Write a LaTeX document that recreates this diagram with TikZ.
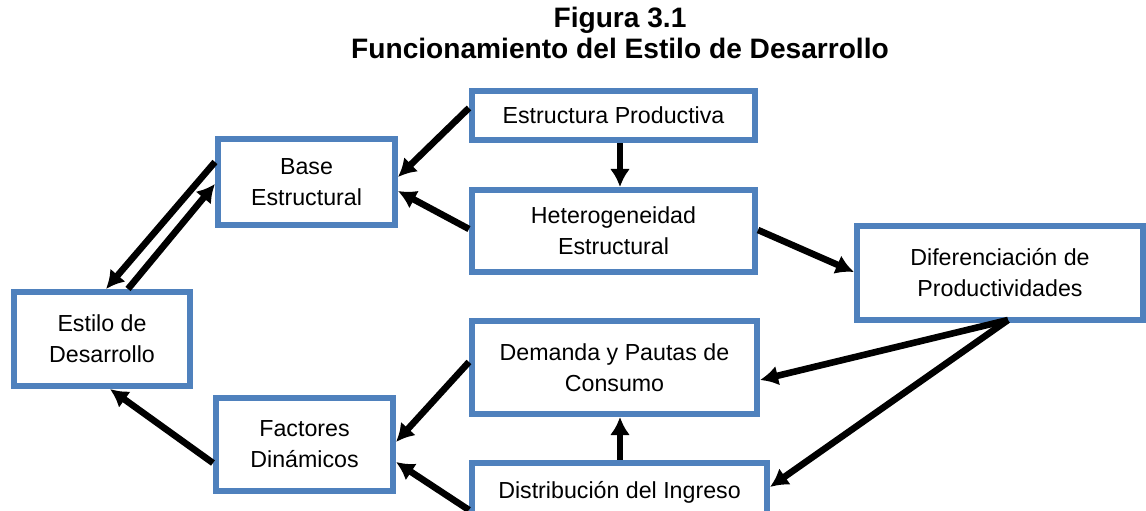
\documentclass[tikz,border=0pt]{standalone}
\usepackage{fontspec}
\setmainfont{Liberation Sans}
\usetikzlibrary{arrows.meta,calc}
\usetikzlibrary{positioning}
\definecolor{blockblue}{HTML}{4F81BD}
\tikzset{>={Latex[length=0.45cm,width=0.5cm]}}

\begin{document}
\begin{tikzpicture}[x=0.025cm,y=-0.025cm,
		block/.style={draw=blockblue, line width=0.15cm, inner sep=0pt, align=center, font=\fontsize{16.5}{22}\selectfont},
		link/.style={->, line width=0.165cm}]
		\useasboundingbox (0,0) rectangle (1146,511);
		\clip (0,0) rectangle (1146,511);
		\node[align=center, font=\fontsize{20}{22}\bfseries\selectfont] (title) at (620,33) {Figura 3.1\\Funcionamiento del Estilo de Desarrollo};
		\node[block, minimum width=7.075cm, minimum height=1.225cm] (ep) at (613.5,115.5) {Estructura Productiva};
		\node[block, minimum width=7.075cm, minimum height=2.05cm] (he) at (613.5,231) {Heterogeneidad\\Estructural};
		\node[block, minimum width=4.425cm, minimum height=2.15cm] (be) at (306.5,182) {Base\\Estructural};
		\node[block, minimum width=4.4cm, minimum height=2.35cm] (ed) at (102,339) {Estilo de\\Desarrollo};
		\node[block, minimum width=4.425cm, minimum height=2.325cm] (fd) at (304.5,444.5) {Factores\\Din\'amicos};
		\node[block, minimum width=7.125cm, minimum height=2.325cm] (dp) at (614.5,367.5) {Demanda y Pautas de\\Consumo};
		\node[block, minimum width=7.375cm, minimum height=1.45cm] (di) at (619.5,492) {Distribuci\'on del Ingreso};
		\node[block, minimum width=7.15cm, minimum height=2.35cm] (dif) at (1000,273) {Diferenciaci\'on de\\Productividades};
		\path[link]
			($(ep.west)+(0,-7.5)$) edge ($(be.east)+(0,-5)$)
			($(he.west)+(0,-2)$) edge ($(be.east)+(0,9)$)
			($(ep.south)+(6.5,0)$) edge ($(he.north)+(6.5,0)$)
			($(he.east)+(0,-1)$) edge ($(dif.west)+(0,-1)$)
			($(dif.south)+(8,-3)$) edge ($(dp.east)+(0,12.5)$)
			($(dif.south)+(8,-3)$) edge ($(di.east)+(0,-5)$)
			($(di.north)+(0.5,0)$) edge ($(dp.south)+(5.5,0)$)
			($(dp.west)+(0,-5.5)$) edge ($(fd.east)+(0,-2.5)$)
			($(di.west)+(0,18)$) edge ($(fd.east)+(0,17.5)$)
			($(fd.west)+(0,18.5)$) edge ($(ed.south)+(8,0)$)
			($(be.west)+(0,-20)$) edge ($(ed.north)+(4,0)$)
			($(ed.north)+(26,0)$) edge ($(be.west)+(0,2)$);
	\end{tikzpicture}
\end{document}
